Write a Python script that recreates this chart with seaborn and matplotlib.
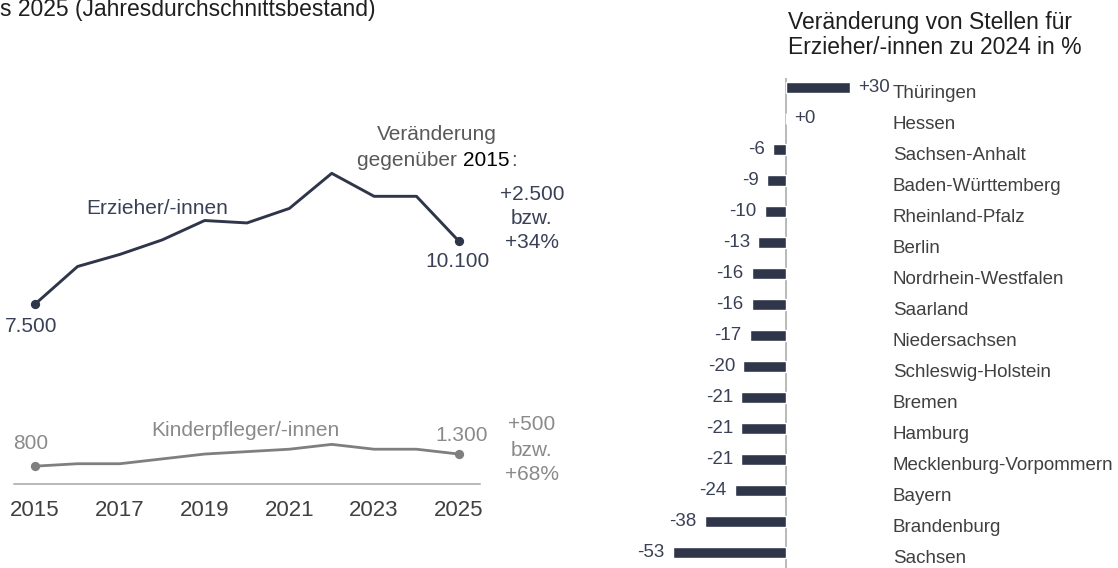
import numpy as np
import pandas as pd
import seaborn as sns
import matplotlib as mpl
import matplotlib.pyplot as plt

sns.set_style("white")
plt.rcParams["font.family"] = ["Liberation Sans", "DejaVu Sans"]

# Data
years = list(range(2015, 2026))
erzieher = [7500, 9050, 9550, 10150, 10950, 10850, 11450, 12900, 11950, 11950, 10100]
kinderpfleger = [800, 900, 900, 1100, 1300, 1400, 1500, 1700, 1500, 1500, 1300]
tick_years = [2015, 2017, 2019, 2021, 2023, 2025]

laender = ["Thüringen", "Hessen", "Sachsen-Anhalt", "Baden-Württemberg",
           "Rheinland-Pfalz", "Berlin", "Nordrhein-Westfalen", "Saarland",
           "Niedersachsen", "Schleswig-Holstein", "Bremen", "Hamburg",
           "Mecklenburg-Vorpommern", "Bayern", "Brandenburg", "Sachsen"]
veraenderung = [30, 0, -6, -9, -10, -13, -16, -16, -17, -20, -21, -21, -21, -24, -38, -53]

# Colours
NAVY = "#2f3649"
NAVY_TXT = "#3a4156"
GREY_LINE = "#7f7f7f"
GREY_TXT = "#8a8a8a"
AXIS = "#a6a6a6"
DARK = "#404040"

W, H = 1118, 568
fig = plt.figure(figsize=(W / 100, H / 100), dpi=100)


def px_box(x0, y0, x1, y1):
    # pixel box (top-left origin) -> figure fraction rect
    return [x0 / W, 1 - y1 / H, (x1 - x0) / W, (y1 - y0) / H]


def px(x, y):
    return x / W, 1 - y / H


# ---------- left: line chart ----------
ax = fig.add_axes(px_box(14, 100, 480, 484.3))
df = pd.DataFrame({"jahr": years, "erzieher": erzieher, "kinderpfleger": kinderpfleger})
sns.lineplot(data=df, x="jahr", y="erzieher", ax=ax, color=NAVY, lw=2.1)
sns.lineplot(data=df, x="jahr", y="kinderpfleger", ax=ax, color=GREY_LINE, lw=2.0)
ends = df.iloc[[0, -1]]
ax.scatter(ends["jahr"], ends["erzieher"], s=32, color=NAVY, zorder=3)
ax.scatter(ends["jahr"], ends["kinderpfleger"], s=32, color=GREY_LINE, zorder=3)

ax.set_xlim(2014.5, 2025.5)
ax.set_ylim(50, 15930)
ax.set_xticks(tick_years)
ax.set_yticks([])
ax.set_xlabel("")
ax.set_ylabel("")
for s in ["top", "left", "right"]:
    ax.spines[s].set_visible(False)
ax.spines["bottom"].set_color(AXIS)
ax.spines["bottom"].set_linewidth(1.1)
ax.tick_params(axis="x", length=0, pad=11, labelsize=16, labelcolor=DARK)

fmt = lambda v: f"{v:,}".replace(",", ".")
ax.annotate(fmt(erzieher[0]), (years[0], erzieher[0]), xytext=(-3, -16.5),
            textcoords="offset points", ha="center", va="center", fontsize=15, color=NAVY_TXT)
ax.annotate(fmt(erzieher[-1]), (years[-1], erzieher[-1]), xytext=(-0.7, -14.8),
            textcoords="offset points", ha="center", va="center", fontsize=15, color=NAVY_TXT)
ax.annotate(fmt(kinderpfleger[0]), (years[0], kinderpfleger[0]), xytext=(-3, 16.6),
            textcoords="offset points", ha="center", va="center", fontsize=15, color=GREY_TXT)
ax.annotate(fmt(kinderpfleger[-1]), (years[-1], kinderpfleger[-1]), xytext=(2.3, 13.7),
            textcoords="offset points", ha="center", va="center", fontsize=15, color=GREY_TXT)

fig.text(*px(157, 208), "Erzieher/-innen", ha="center", va="center", fontsize=15, color=NAVY_TXT)
fig.text(*px(245, 431), "Kinderpfleger/-innen", ha="center", va="center", fontsize=15, color=GREY_TXT)

# change annotation ("2015" drawn in black, as in the reference)
fig.text(*px(437, 134), "Veränderung", ha="center", va="center", fontsize=15, color="#595959")
t1 = fig.text(*px(357, 160), "gegenüber ", ha="left", va="center", fontsize=15, color="#595959")
t2 = ax.annotate("2015", xy=(1, 0), xycoords=t1, va="bottom", ha="left", fontsize=15, color="#000000")
ax.annotate(":", xy=(1, 0), xycoords=t2, xytext=(1.5, 0), textcoords="offset points",
            va="bottom", ha="left", fontsize=15, color="#595959")

for txt, y in zip(["+2.500", "bzw.", "+34%"], [195, 219, 243]):
    fig.text(*px(532, y), txt, ha="center", va="center", fontsize=15, color=NAVY_TXT)
for txt, y in zip(["+500", "bzw.", "+68%"], [425, 450, 475]):
    fig.text(*px(532, y), txt, ha="center", va="center", fontsize=15, color=GREY_TXT)

fig.text(*px(0, 16), "s 2025 (Jahresdurchschnittsbestand)", ha="left", va="baseline",
         fontsize=16.5, color="#1f1f1f")

# ---------- right: bar chart ----------
ax2 = fig.add_axes(px_box(640, 78.3, 1118, 568))
sns.barplot(x=veraenderung, y=laender, orient="h", color=NAVY, saturation=1,
            width=0.38, ax=ax2)
ax2.axvline(0, color=AXIS, lw=1.1, zorder=0)
ax2.set_xlim(-68.22, 155.14)
ax2.set_ylim(15.5, -0.3)
ax2.set_axis_off()

for i, (name, v) in enumerate(zip(laender, veraenderung)):
    if v < 0:
        ax2.annotate(f"{v:+d}", (v, i), xytext=(-5.8, 0), textcoords="offset points",
                     ha="right", va="center", fontsize=13.5, color=NAVY_TXT)
    else:
        ax2.annotate(f"{v:+d}", (v, i), xytext=(5.5, 0), textcoords="offset points",
                     ha="left", va="center", fontsize=13.5, color=NAVY_TXT)
    ax2.annotate(name, (50, i), xytext=(0, -4), textcoords="offset points",
                 ha="left", va="center", fontsize=13.5, color=DARK)

fig.text(*px(788, 22), "Veränderung von Stellen für", ha="left", va="center",
         fontsize=16.5, color="#1f1f1f")
fig.text(*px(788, 48), "Erzieher/-innen zu 2024 in %", ha="left", va="center",
         fontsize=16.5, color="#1f1f1f")

fig.savefig("out.png", dpi=100)
